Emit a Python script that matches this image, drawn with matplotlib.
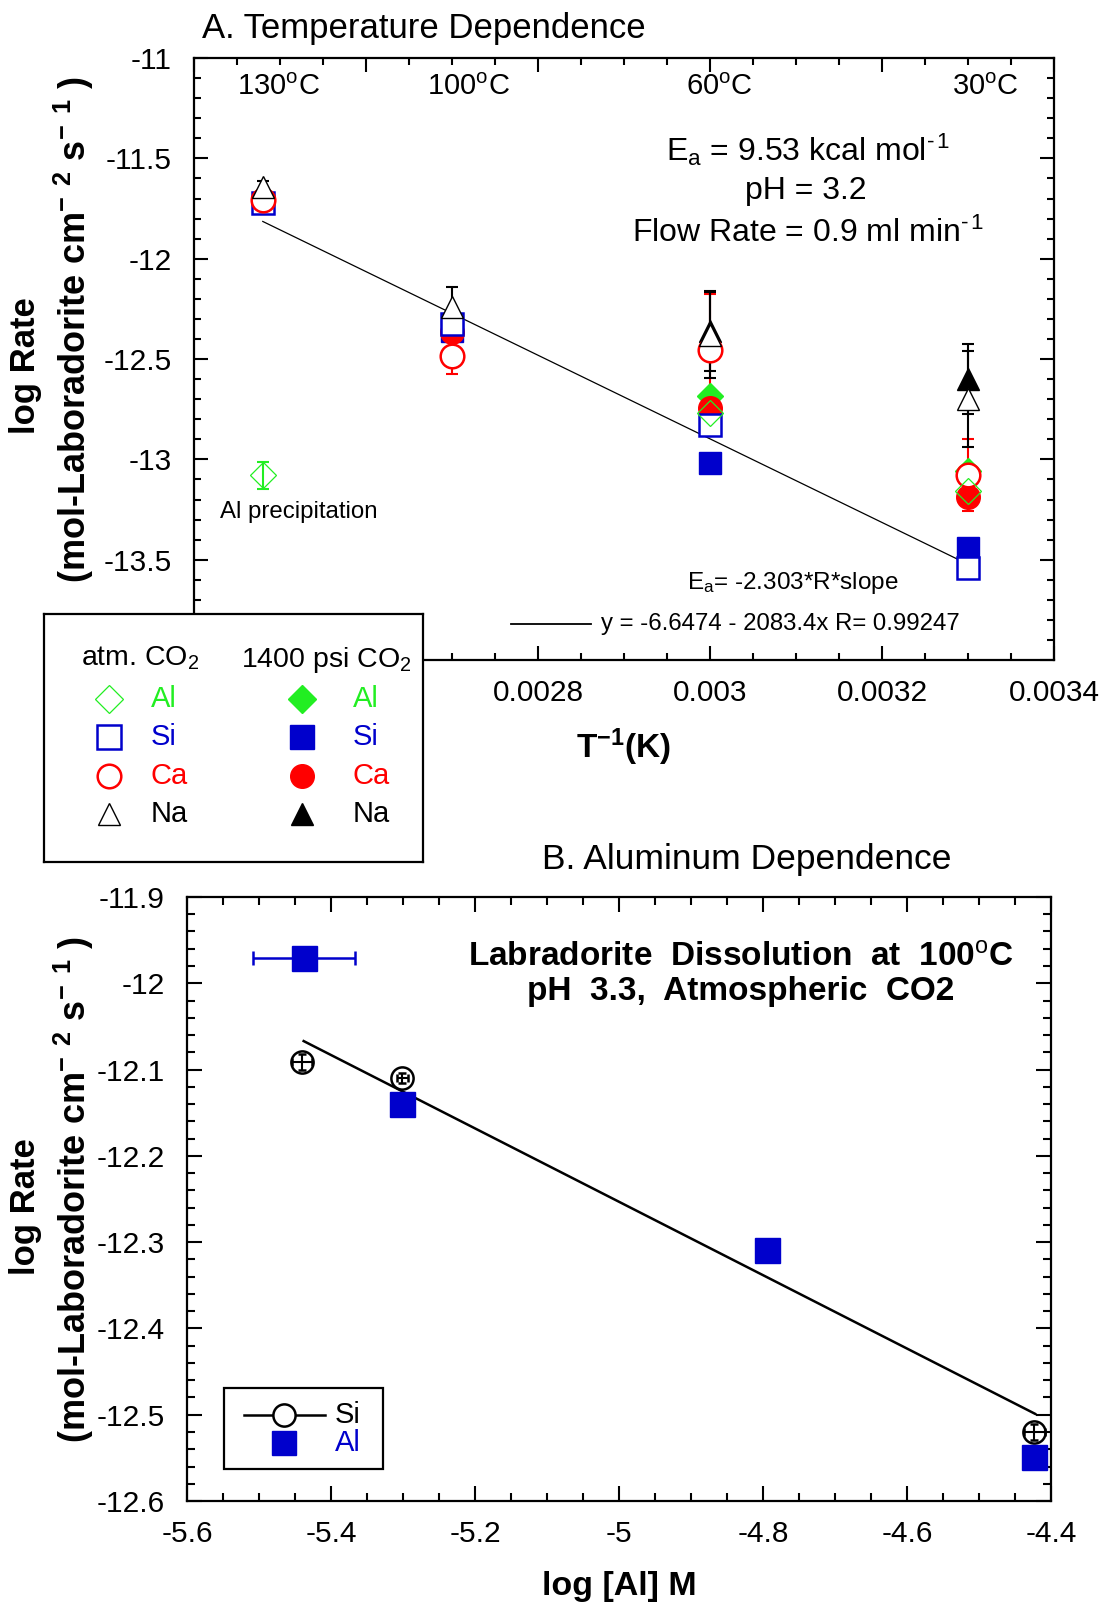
import matplotlib
matplotlib.use("Agg")
import matplotlib.pyplot as plt
import numpy as np
from matplotlib.ticker import MultipleLocator, FuncFormatter
from matplotlib.patches import Rectangle

plt.rcParams['font.family'] = ['Liberation Sans', 'DejaVu Sans']
plt.rcParams['mathtext.fontset'] = 'custom'
plt.rcParams['mathtext.rm'] = 'Liberation Sans'
plt.rcParams['mathtext.bf'] = 'Liberation Sans:bold'
plt.rcParams['mathtext.it'] = 'Liberation Sans:italic'
plt.rcParams['axes.unicode_minus'] = False

nan = np.nan

# ---- panel A: temperature dependence ----
inv_T = [0.00248, 0.0027, 0.003, 0.0033]
temp_labels = ['130', '100', '60', '30']

al_atm = [-13.08, nan, -12.77, -13.16]
si_atm = [-11.72, -12.325, -12.83, -13.54]
ca_atm = [-11.705, -12.485, -12.455, -13.077]
na_atm = [-11.645, -12.24, -12.38, -12.70]
al_atm_err = [0.066, 0, 0, 0]
ca_atm_err = [0, 0.09, 0.28, 0.178]
na_atm_err = [0.03, 0.10, 0.215, 0.24]

al_hp = [nan, nan, -12.685, -13.06]
si_hp = [nan, -12.36, -13.02, -13.44]
ca_hp = [nan, -12.365, -12.745, -13.185]
na_hp = [nan, nan, -12.36, -12.60]
na_hp_err = [0, 0, 0.2, 0.176]

fit_x = [0.00248, 0.0033]
fit_intercept = -6.6474
fit_slope = -2083.4

# ---- panel B: aluminum dependence ----
al_logal = [-5.438, -5.301, -4.794, -4.423]
al_rate = [-11.971, -12.140, -12.309, -12.549]
al_xerr = [0.071, 0.01, 0.0, 0.01]

si_logal = [-5.44, -5.301, -4.423]
si_rate = [-12.091, -12.110, -12.520]
si_xerr = [0.014, 0.008, 0.014]
si_yerr = [0.009, 0.006, 0.009]

lineB_x = [-5.438, -4.422]
lineB_y = [-12.067, -12.499]

GREEN = '#22ee22'
BLUE = '#0000cc'
RED = '#ff0000'

fmt = FuncFormatter(lambda v, p: '%g' % v)
# labels that sit under the legend box are left blank
fmtAx = FuncFormatter(lambda v, p: '' if v < 0.0027 else '%g' % v)
fmtAy = FuncFormatter(lambda v, p: '' if v < -13.9 else '%g' % v)

fig = plt.figure(figsize=(11.04, 16.04), dpi=100)


def style_axes(ax, xmaj, xmin, ymaj, ymin, maj_len, min_len):
    ax.xaxis.set_major_locator(MultipleLocator(xmaj))
    ax.xaxis.set_minor_locator(MultipleLocator(xmin))
    ax.yaxis.set_major_locator(MultipleLocator(ymaj))
    ax.yaxis.set_minor_locator(MultipleLocator(ymin))
    ax.xaxis.set_major_formatter(fmt)
    ax.yaxis.set_major_formatter(fmt)
    ax.tick_params(which='both', direction='in', top=True, right=True,
                   width=1.5, labelsize=21.5)
    ax.tick_params(which='major', length=maj_len)
    ax.tick_params(which='minor', length=min_len)
    ax.tick_params(axis='x', pad=14)
    ax.tick_params(axis='y', pad=16)
    for s in ax.spines.values():
        s.set_linewidth(1.6)


# ================= panel A =================
axA = fig.add_axes([0.1757, 0.5885, 0.779, 0.3753])
axA.set_xlim(0.0024, 0.0034)
axA.set_ylim(-14, -11)
style_axes(axA, 0.0002, 0.00005, 0.5, 0.1, 10, 5)
axA.xaxis.set_major_formatter(fmtAx)
axA.yaxis.set_major_formatter(fmtAy)

fx = np.array(fit_x)
axA.plot(fx, fit_intercept + fit_slope * fx, color='black', lw=0.9, zorder=2)

ekw = dict(ls='none', capsize=4, elinewidth=1.5, capthick=1.5)
axA.errorbar(inv_T, al_atm, yerr=al_atm_err, ecolor=GREEN, marker='none', **ekw)
axA.errorbar(inv_T, ca_atm, yerr=ca_atm_err, ecolor=RED, marker='none', **ekw)
axA.errorbar(inv_T, na_atm, yerr=na_atm_err, ecolor='black', marker='none', **ekw)
axA.errorbar(inv_T, na_hp, yerr=na_hp_err, ecolor='black', marker='none', **ekw)

# filled (1400 psi CO2)
axA.plot(inv_T, al_hp, ls='none', marker='D', ms=13, color=GREEN, zorder=3)
axA.plot(inv_T, si_hp, ls='none', marker='s', ms=16, color=BLUE, zorder=3)
axA.plot(inv_T, ca_hp, ls='none', marker='o', ms=17, color=RED, zorder=3)
axA.plot(inv_T, na_hp, ls='none', marker='^', ms=16, color='black', zorder=3)
# open (atm CO2)
axA.plot(inv_T, si_atm, ls='none', marker='s', ms=16, mfc='white', mec=BLUE, mew=1.8, zorder=4)
axA.plot(inv_T, ca_atm, ls='none', marker='o', ms=17, mfc='white', mec=RED, mew=1.8, zorder=4)
axA.plot(inv_T, al_atm, ls='none', marker='D', ms=13, mfc='none', mec=GREEN, mew=0.9, zorder=5)
axA.plot(inv_T, na_atm, ls='none', marker='^', ms=16, mfc='white', mec='black', mew=1.0, zorder=5)

temp_pos = [0.098, 0.319, 0.611, 0.920]
for lab, xp in zip(temp_labels, temp_pos):
    axA.text(xp, 0.952, lab + r'$^{\rm o}$C', transform=axA.transAxes,
             ha='center', va='center', fontsize=21)

axA.text(0.714, 0.847, r'E$_{\rm a}$ = 9.53 kcal mol$^{\text{-}\,1}$', transform=axA.transAxes,
         ha='center', va='center', fontsize=23)
axA.text(0.711, 0.779, 'pH = 3.2', transform=axA.transAxes,
         ha='center', va='center', fontsize=23)
axA.text(0.714, 0.709, r'Flow Rate = 0.9 ml min$^{\text{-}\,1}$', transform=axA.transAxes,
         ha='center', va='center', fontsize=23)
axA.text(0.1219, 0.2465, 'Al precipitation', transform=axA.transAxes,
         ha='center', va='center', fontsize=17.3)
axA.text(0.6965, 0.128, r'E$_{\rm a}$= -2.303*R*slope', transform=axA.transAxes,
         ha='center', va='center', fontsize=17.5)
axA.plot([0.369, 0.462], [0.0598, 0.0598], color='black', lw=1.3, transform=axA.transAxes)
axA.text(0.4728, 0.0598, 'y = -6.6474 - 2083.4x R= 0.99247', transform=axA.transAxes,
         ha='left', va='center', fontsize=17.3)

fig.text(0.1826, 0.9825, 'A. Temperature Dependence', ha='left', va='center', fontsize=25)
fig.text(0.565, 0.5343, r'$\mathbf{T^{-1}(K)}$', ha='center', va='center', fontsize=24)

ylab2 = r'(mol-Laboradorite cm$^{\mathbf{-}}$ $^{\mathbf{2}}$ s$^{\mathbf{-}}$ $^{\mathbf{1}}$ )'
fig.text(0.0232, 0.7724, 'log Rate', rotation=90, ha='center', va='center',
         fontsize=25, fontweight='bold')
fig.text(0.0667, 0.7943, ylab2, rotation=90, ha='center', va='center',
         fontsize=26, fontweight='bold')

# legend box for panel A
axL = fig.add_axes([0.0399, 0.4626, 0.343, 0.1546])
axL.set_xlim(0, 1)
axL.set_ylim(0, 1)
axL.set_xticks([])
axL.set_yticks([])
axL.set_facecolor('white')
for s in axL.spines.values():
    s.set_linewidth(1.6)
axL.text(0.253, 0.823, r'atm. CO$_2$', ha='center', va='center', fontsize=20.5)
axL.text(0.745, 0.815, r'1400 psi CO$_2$', ha='center', va='center', fontsize=20.5)
leg_names = ['Al', 'Si', 'Ca', 'Na']
leg_colors = [GREEN, BLUE, RED, 'black']
leg_markers = ['D', 's', 'o', '^']
leg_ms = [14, 17, 17, 16]
leg_rows = [0.657, 0.504, 0.347, 0.194]
for name, c, m, ms, yy in zip(leg_names, leg_colors, leg_markers, leg_ms, leg_rows):
    mew = 0.9 if m == 'D' else (1.0 if m == '^' else 1.8)
    axL.plot([0.1715], [yy], marker=m, ms=ms, mfc='white', mec=c, mew=mew, ls='none')
    axL.plot([0.681], [yy], marker=m, ms=ms, color=c, ls='none')
    axL.text(0.2823, yy, name, color=c, ha='left', va='center', fontsize=21)
    axL.text(0.815, yy, name, color=c, ha='left', va='center', fontsize=21)

# ================= panel B =================
axB = fig.add_axes([0.1694, 0.0642, 0.7826, 0.3766])
axB.set_xlim(-5.6, -4.4)
axB.set_ylim(-12.6, -11.9)
style_axes(axB, 0.2, 0.05, 0.1, 0.02, 10.5, 5.5)

axB.plot(lineB_x, lineB_y, color='black', lw=1.8, zorder=2)
axB.errorbar(si_logal, si_rate, xerr=si_xerr, yerr=si_yerr, ls='none', marker='o', ms=16,
             mfc='none', mec='black', mew=1.8, ecolor='black', elinewidth=1.5,
             capsize=3, capthick=1.5, zorder=3)
axB.errorbar(al_logal, al_rate, xerr=al_xerr, ls='none', marker='s', ms=18,
             color=BLUE, ecolor=BLUE, elinewidth=1.8, capsize=5, capthick=1.8, zorder=4)

axB.text(0.641, 0.898, r'Labradorite  Dissolution  at  100$^{\rm o}$C',
         transform=axB.transAxes, ha='center', va='center', fontsize=24, fontweight='bold')
axB.text(0.641, 0.8435, 'pH  3.3,  Atmospheric  CO2',
         transform=axB.transAxes, ha='center', va='center', fontsize=24, fontweight='bold')

axB.add_patch(Rectangle((0.0428, 0.053), 0.1841, 0.134, transform=axB.transAxes,
                        facecolor='white', edgecolor='black', lw=1.6, zorder=6))
axB.plot([0.0654, 0.1602], [0.1424, 0.1424], color='black', lw=1.8,
         transform=axB.transAxes, zorder=7)
axB.plot([0.1128], [0.1424], marker='o', ms=16, mfc='white', mec='black', mew=1.8,
         transform=axB.transAxes, zorder=8)
axB.plot([0.1128], [0.0965], marker='s', ms=17, color=BLUE,
         transform=axB.transAxes, zorder=8)
axB.text(0.1708, 0.1424, 'Si', transform=axB.transAxes, ha='left', va='center',
         fontsize=21, zorder=8)
axB.text(0.1708, 0.0965, 'Al', transform=axB.transAxes, ha='left', va='center',
         fontsize=21, color=BLUE, zorder=8)

fig.text(0.6766, 0.4642, 'B. Aluminum Dependence', ha='center', va='center', fontsize=25.5)
fig.text(0.5607, 0.0112, 'log [Al] M', ha='center', va='center', fontsize=24.5,
         fontweight='bold')
fig.text(0.0232, 0.2475, 'log Rate', rotation=90, ha='center', va='center',
         fontsize=25, fontweight='bold')
fig.text(0.0667, 0.2581, ylab2, rotation=90, ha='center', va='center',
         fontsize=26, fontweight='bold')

fig.savefig('out.png', dpi=100)
